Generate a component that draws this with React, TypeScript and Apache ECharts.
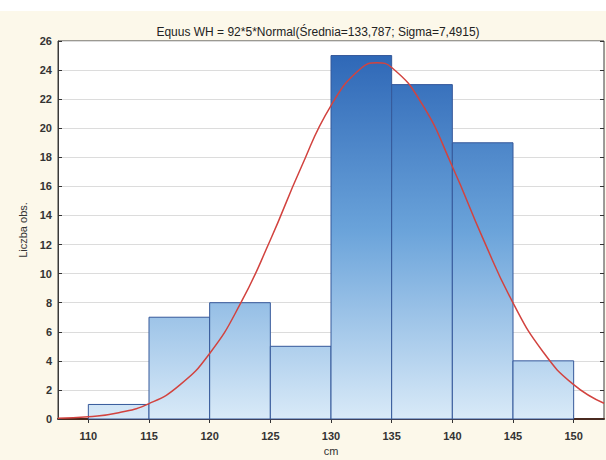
import React, { useEffect, useRef } from "react";
import * as echarts from "echarts";

const binStarts = [110, 115, 120, 125, 130, 135, 140, 145];
const binEnds = [115, 120, 125, 130, 135, 140, 145, 150];
const counts = [1, 7, 8, 5, 25, 23, 19, 4];
const xTicks = [110, 115, 120, 125, 130, 135, 140, 145, 150];
const curveX = [107.5, 110, 112.5, 115, 117.5, 120, 122.5, 125, 127.5, 130, 132.5, 133.8, 135, 137.5, 140, 142.5, 145, 147.5, 150, 152.5];
const curveY = [0.05, 0.16, 0.43, 1.06, 2.31, 4.51, 7.88, 12.31, 17.23, 21.56, 24.14, 24.5, 24.18, 21.67, 17.37, 12.46, 7.99, 4.59, 2.36, 1.08];
const titleText = "Equus WH = 92*5*Normal(Średnia=133,787; Sigma=7,4915)";

export default function App() {
  const ref = useRef<HTMLDivElement>(null);
  useEffect(() => {
    if (!ref.current) return;
    const chart = echarts.init(ref.current, null, { renderer: "svg" });
    const barData = binStarts.map((s, i) => [s, binEnds[i], counts[i]]);
    const lineData = curveX.map((x, i) => [x, curveY[i]]);
    const font = "'Liberation Sans', Arial, sans-serif";
    const grad = new echarts.graphic.LinearGradient(0, 41, 0, 419, [
      { offset: 0, color: "#2a63b4" },
      { offset: 0.5, color: "#6aa3da" },
      { offset: 1, color: "#d9eaf8" },
    ], true);
    chart.setOption({
      animation: false,
      backgroundColor: "#ffffff",
      graphic: [
        { type: "rect", z: -10, silent: true, shape: { x: 0, y: 11, width: 606, height: 449 }, style: { fill: "#fcf8ea" } },
      ],
      title: {
        text: titleText,
        left: 313,
        textAlign: "center",
        top: 21,
        textStyle: { fontFamily: font, fontSize: 12, fontWeight: "normal", color: "#222" },
      },
      grid: {
        left: 58, top: 41, right: 2, bottom: 41,
        outerBoundsMode: "none",
        containLabel: false,
        show: true, backgroundColor: "#ffffff", borderColor: "#3a3a3a", borderWidth: 1,
      },
      xAxis: [
        {
          type: "value", min: 107.5, max: 152.5,
          name: "cm", nameLocation: "middle", nameGap: 26,
          nameTextStyle: { fontFamily: font, fontSize: 11, color: "#333" },
          axisLine: { show: true, lineStyle: { color: "#4a2a20", width: 2 } },
          axisTick: { show: true, inside: true, length: 4, customValues: xTicks, lineStyle: { color: "#333" } },
          axisLabel: { customValues: xTicks, margin: 11, fontFamily: font, fontSize: 11, fontWeight: "bold", color: "#333" },
          splitLine: { show: false },
        },
        {
          type: "value", position: "top", min: 107.5, max: 152.5,
          axisLine: { show: false },
          axisTick: { show: true, inside: true, length: 4, customValues: xTicks, lineStyle: { color: "#333" } },
          axisLabel: { show: false, customValues: xTicks },
          splitLine: { show: false },
        },
      ],
      yAxis: [
        {
          type: "value", min: 0, max: 26, interval: 2,
          name: "Liczba obs.", nameLocation: "middle", nameGap: 30,
          nameTextStyle: { fontFamily: font, fontSize: 11, color: "#333" },
          axisLine: { show: true, lineStyle: { color: "#3a3a3a" } },
          axisTick: { show: true, inside: true, length: 4, lineStyle: { color: "#333" } },
          axisLabel: { margin: 6, fontFamily: font, fontSize: 11, fontWeight: "bold", color: "#333" },
          splitLine: { show: true, lineStyle: { color: "#dcdcdc", width: 1 } },
        },
        {
          type: "value", position: "right", min: 0, max: 26, interval: 2,
          axisLine: { show: false },
          axisTick: { show: true, inside: true, length: 4, lineStyle: { color: "#333" } },
          axisLabel: { show: false },
          splitLine: { show: false },
        },
      ],
      series: [
        {
          type: "custom",
          xAxisIndex: 0, yAxisIndex: 0,
          encode: { x: [0, 1], y: 2 },
          data: barData,
          renderItem: (params: any, api: any) => {
            const p0 = api.coord([api.value(0), api.value(2)]);
            const p1 = api.coord([api.value(1), 0]);
            return {
              type: "rect",
              shape: { x: p0[0], y: p0[1], width: p1[0] - p0[0], height: p1[1] - p0[1] },
              style: { fill: grad, stroke: "#35589a", lineWidth: 1 },
            };
          },
          z: 2,
        },
        {
          type: "line",
          xAxisIndex: 0, yAxisIndex: 0,
          data: lineData,
          smooth: true,
          showSymbol: false,
          lineStyle: { color: "#d2433f", width: 1.5 },
          z: 3,
        },
      ],
    });
    return () => chart.dispose();
  }, []);
  return <div ref={ref} style={{ position: "absolute", left: 0, top: 0, width: 606, height: 460 }} />;
}
